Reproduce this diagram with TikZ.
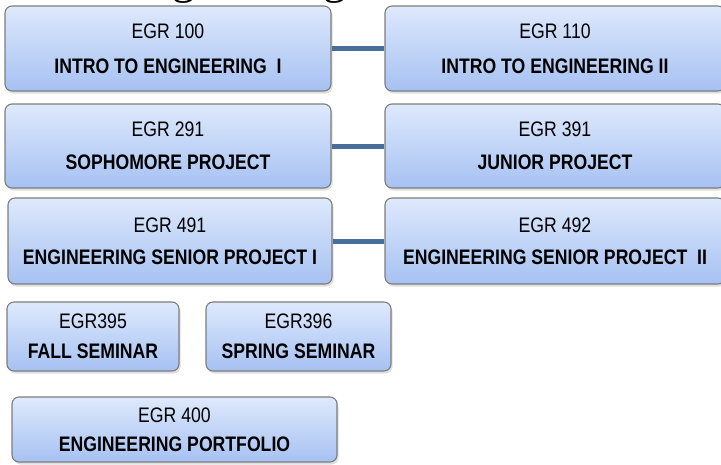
\documentclass[tikz,border=0pt]{standalone}
\usepackage{fontspec}
\setmainfont{Liberation Sans}[FakeStretch=0.84]
\newfontfamily\titlefont{Liberation Serif}
\usetikzlibrary{shadows}
\definecolor{boxtop}{RGB}{222,233,252}
\definecolor{boxbottom}{RGB}{166,193,242}
\definecolor{boxedge}{RGB}{125,125,125}
\definecolor{linkblue}{RGB}{72,110,155}
\tikzset{
  course/.style={rectangle, rounded corners=7pt, draw=boxedge, line width=1.1pt,
    top color=boxtop, bottom color=boxbottom, align=center, inner sep=0pt,
    font=\fontsize{21}{35}\selectfont,
    drop shadow={opacity=0.25, shadow xshift=1.5pt, shadow yshift=-2.5pt}},
  link/.style={draw=linkblue, line width=5pt}
}
\begin{document}
\begin{tikzpicture}[x=1pt, y=-1pt]
\useasboundingbox (0,0) rectangle (721,464);
\clip (0,0) rectangle (721,464);
% heading, mostly above the page edge
\node[font=\titlefont\fontsize{46}{46}\selectfont, anchor=base west, inner sep=0pt] (title) at (121,-7) {Engineering};
% first year
\node[course, minimum width=326, minimum height=85] (e100) at (168,48.5)
  {EGR 100\\\textbf{INTRO TO ENGINEERING\ \ I}};
\node[course, minimum width=340, minimum height=85] (e110) at (555,48.5)
  {EGR 110\\\textbf{INTRO TO ENGINEERING II}};
% second and third year projects
\node[course, minimum width=326, minimum height=84] (e291) at (168,146)
  {EGR 291\\[-2pt]\textbf{SOPHOMORE PROJECT}};
\node[course, minimum width=340, minimum height=84] (e391) at (555,146)
  {EGR 391\\[-2pt]\textbf{JUNIOR PROJECT}};
% senior project
\node[course, minimum width=324, minimum height=86] (e491) at (170,241)
  {EGR 491\\[-3pt]\textbf{ENGINEERING SENIOR PROJECT I}};
\node[course, minimum width=340, minimum height=86] (e492) at (555,241)
  {EGR 492\\[-3pt]\textbf{ENGINEERING SENIOR PROJECT\ \ II}};
% seminars
\node[course, minimum width=172, minimum height=69] (e395) at (93,336.5)
  {EGR395\\[-5pt]\textbf{FALL SEMINAR}};
\node[course, minimum width=185, minimum height=69] (e396) at (298.5,336.5)
  {EGR396\\[-5pt]\textbf{SPRING SEMINAR}};
% portfolio
\node[course, minimum width=325, minimum height=65] (e400) at (174.5,429.5)
  {EGR 400\\[-6pt]\textbf{ENGINEERING PORTFOLIO}};
% sequence links
\draw[link] (e100.east) -- (e110.west);
\draw[link] (e291.east) -- (e391.west);
\draw[link] (e491.east) -- (e492.west);
\end{tikzpicture}
\end{document}
